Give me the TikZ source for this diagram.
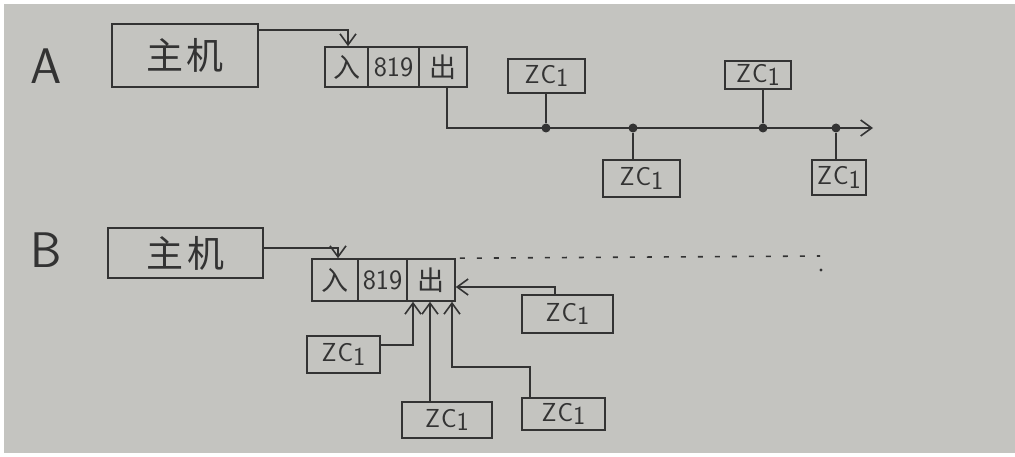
\documentclass[tikz,border=0pt]{standalone}
\usepackage{fontspec}
\newfontfamily\cjk{Noto Sans CJK SC}
\usetikzlibrary{arrows.meta,calc}
\definecolor{paper}{HTML}{C4C4C0}
\definecolor{ink}{HTML}{333333}
\newcommand{\zcone}{\sffamily Z\hspace{1pt}C\raisebox{-0.3ex}{1}}
\begin{document}
\begin{tikzpicture}[x=1pt,y=-1pt,
  every node/.style={text=ink},
  box/.style={draw=ink,line width=1.6pt,inner sep=0pt,align=center},
  cjkbig/.style={font=\cjk\fontsize{37}{37}\selectfont},
  cjkcell/.style={font=\cjk\fontsize{27}{27}\selectfont},
  numcell/.style={font=\sffamily\fontsize{28}{28}\selectfont},
  zcbox/.style={box,font=\fontsize{26}{26}\selectfont},
  wire/.style={draw=ink,line width=1.6pt},
  arr/.style={wire,-{Straight Barb[length=11pt,width=16pt,line width=1.6pt]}},
  dot/.style={circle,fill=ink,inner sep=0pt,minimum size=9pt},
  lbl/.style={font=\sffamily\fontsize{50}{50}\selectfont}]
\useasboundingbox (0,0) rectangle (1015,457);
\fill[white] (0,0) rectangle (1015,457);
\fill[paper] (4,4) rectangle (1015,453);

% ---------- A ----------
\node[lbl] (labA) at (46,66) {A};
\node[box,cjkbig,minimum width=146pt,minimum height=63pt] (hostA) at (185,55.5) {主\hspace{4pt}机};
\node[box,cjkcell,minimum width=43pt,minimum height=40pt] (inA) at (346.5,67) {入};
\node[box,numcell,minimum width=51pt,minimum height=40pt] (numA) at (393.5,67) {819};
\node[box,cjkcell,minimum width=48pt,minimum height=40pt] (outA) at (443,67) {出};

\node[zcbox,minimum width=77pt,minimum height=34pt] (zA1) at (546.5,76) {\zcone};
\node[zcbox,minimum width=77pt,minimum height=37pt] (zA2) at (641.5,178.5) {\zcone};
\node[zcbox,minimum width=66pt,minimum height=28pt] (zA3) at (758,75) {\zcone};
\node[zcbox,minimum width=54pt,minimum height=35pt] (zA4) at (839,177.5) {\zcone};

\coordinate (busend) at (873,128);
\node[dot] (jA1) at (546,128) {};
\node[dot] (jA2) at (633,128) {};
\node[dot] (jA3) at (763,128) {};
\node[dot] (jA4) at (836,128) {};

\draw[arr] (hostA.east |- 0,30) -| ([xshift=1.5pt]inA.north);
\draw[arr] ([xshift=4pt]outA.south) |- (busend);
\draw[wire] (jA1) -- (jA1 |- zA1.south);
\draw[wire] (jA2) -- (jA2 |- zA2.north);
\draw[wire] (jA3) -- (jA3 |- zA3.south);
\draw[wire] (jA4) -- (jA4 |- zA4.north);

% ---------- B ----------
\node[lbl] (labB) at (46,250) {B};
\node[box,cjkbig,minimum width=155pt,minimum height=50pt] (hostB) at (185.5,253) {主\hspace{4pt}机};
\node[box,cjkcell,minimum width=46pt,minimum height=42pt] (inB) at (335,280) {入};
\node[box,numcell,minimum width=49pt,minimum height=42pt] (numB) at (382.5,280) {819};
\node[box,cjkcell,minimum width=48pt,minimum height=42pt] (outB) at (431,280) {出};

\node[zcbox,minimum width=73pt,minimum height=37pt] (zB1) at (343.5,354.5) {\zcone};
\node[zcbox,minimum width=90pt,minimum height=36pt] (zB2) at (447,420) {\zcone};
\node[zcbox,minimum width=83pt,minimum height=32pt] (zB3) at (563.5,414) {\zcone};
\node[zcbox,minimum width=91pt,minimum height=38pt] (zB4) at (567.5,314) {\zcone};

\draw[arr] (hostB.east |- 0,248) -| ([xshift=3pt]inB.north);
\draw[arr] (zB1.east |- 0,345) -| ([xshift=-18pt]outB.south);
\draw[arr] ([xshift=-17pt]zB2.north) -- ([xshift=-1pt]outB.south);
\draw[arr] ([xshift=-33.5pt]zB3.north) |- (452,367) -- ([xshift=21pt]outB.south);
\draw[arr] ([xshift=-12.5pt]zB4.north) |- ([yshift=-7pt]outB.east);

\coordinate (dotend) at (820,256);
\draw[ink,line width=1.6pt,dash pattern=on 5pt off 12pt] ([xshift=4pt]outB.north east) -- (dotend);
\fill[ink] (821,270) circle (1.6pt);
\end{tikzpicture}
\end{document}
